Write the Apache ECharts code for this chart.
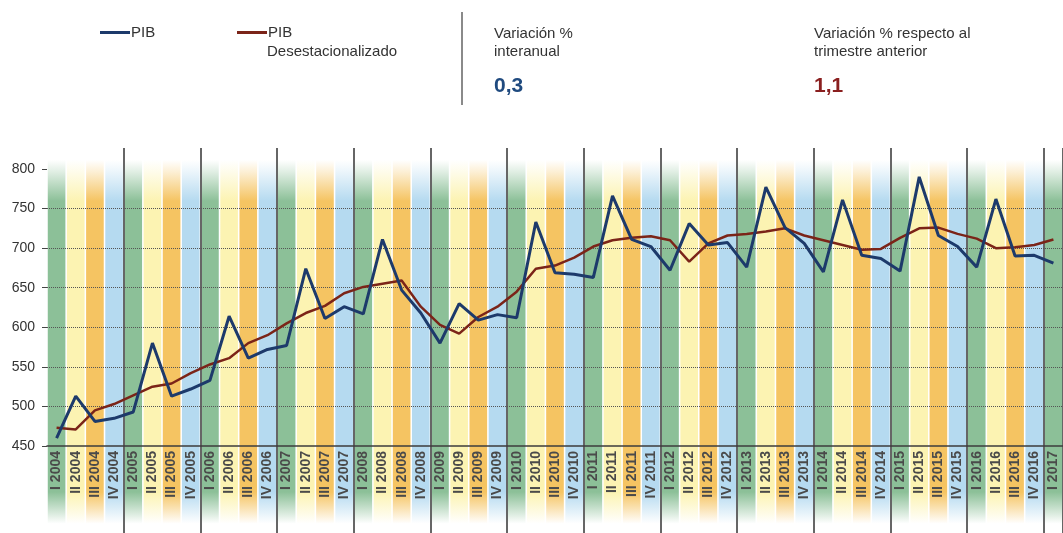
<!DOCTYPE html>
<html>
<head>
<meta charset="utf-8">
<script src="https://cdn.jsdelivr.net/npm/echarts@6/dist/echarts.min.js"></script>
<style>
  html, body { margin: 0; padding: 0; background: #fff; }
  #chart { width: 1063px; height: 533px; }
</style>
</head>
<body>
<div id="chart"></div>
<script>
// trimestres I 2004 .. I 2017
const years = [2004, 2005, 2006, 2007, 2008, 2009, 2010, 2011, 2012, 2013, 2014, 2015, 2016, 2017]
const quarterNames = ['I', 'II', 'III', 'IV']
const categories = []
years.forEach(y => {
  quarterNames.forEach(q => {
    if (y === 2017 && q !== 'I') return
    categories.push(q + ' ' + y)
  })
})

// PIB (serie original)
const pib = [
  460, 513, 481, 485,
  493, 580, 513, 522,
  533, 614, 561, 572,
  577, 674, 611, 626,
  617, 711, 647, 618,
  580, 630, 609, 616,
  612, 733, 669, 667,
  663, 766, 711, 702,
  672, 731, 704, 707,
  676, 777, 726, 706,
  670, 761, 691, 687,
  671, 790, 716, 702,
  676, 762, 690, 691,
  681
]

// PIB desestacionalizado
const pibDes = [
  473, 471, 495, 503,
  514, 525, 529, 542,
  553, 561, 580, 590,
  605, 618, 627, 643,
  651, 655, 659, 626,
  603, 592, 613, 626,
  645, 674, 678, 688,
  702, 710, 713, 715,
  710, 683, 706, 716,
  718, 721, 725, 716,
  710, 704, 698, 699,
  713, 725, 726, 718,
  712, 700, 701, 704,
  711
]

const yTicks = { min: 450, max: 800, step: 50 }
const headline = { interanual: '0,3', trimestral: '1,1' }

// colores de fondo por trimestre (I verde, II amarillo, III naranja, IV azul)
const bandRgb = ['140,192,152', '252,243,178', '245,196,98', '181,218,240']

const chart = echarts.init(document.getElementById('chart'))
const font = 'Liberation Sans, Arial, sans-serif'

function bandColor(rgb) {
  return new echarts.graphic.LinearGradient(0, 0, 0, 1, [
    { offset: 0, color: 'rgba(' + rgb + ',0)' },
    { offset: 0.03, color: 'rgba(' + rgb + ',0.25)' },
    { offset: 0.11, color: 'rgba(' + rgb + ',1)' },
    { offset: 0.89, color: 'rgba(' + rgb + ',1)' },
    { offset: 0.975, color: 'rgba(' + rgb + ',0)' },
    { offset: 1, color: 'rgba(' + rgb + ',0)' }
  ])
}

const bandData = categories.map((c, i) => ({
  value: 1,
  itemStyle: { color: bandColor(bandRgb[i % 4]) }
}))

const headStyle = { fontSize: 15, fontWeight: 'normal', color: '#333', lineHeight: 18, fontFamily: font }

const option = {
  backgroundColor: '#fff',
  animation: false,
  textStyle: { fontFamily: font },
  title: [
    { text: 'Variación %\ninteranual', left: 494, top: 25, padding: 0, textStyle: headStyle },
    { text: headline.interanual, left: 494, top: 76, padding: 0,
      textStyle: { fontSize: 21, fontWeight: 'bold', color: '#1f4a7f', fontFamily: font } },
    { text: 'Variación % respecto al\ntrimestre anterior', left: 814, top: 25, padding: 0, textStyle: headStyle },
    { text: headline.trimestral, left: 814, top: 76, padding: 0,
      textStyle: { fontSize: 21, fontWeight: 'bold', color: '#8a1f1f', fontFamily: font } },
    { text: 'Desestacionalizado', left: 267, top: 43, padding: 0, textStyle: headStyle }
  ],
  legend: [
    { data: ['PIB'], left: 100, top: 25, padding: 0, icon: 'rect', itemWidth: 30, itemHeight: 3, itemGap: 2,
      textStyle: { fontSize: 15, color: '#333', padding: [0, 0, 0, -4] } },
    { data: ['PIB Desestacionalizado'], left: 237, top: 25, padding: 0, icon: 'rect', itemWidth: 30, itemHeight: 3,
      formatter: () => 'PIB',
      textStyle: { fontSize: 15, color: '#333', padding: [0, 0, 0, -4] } }
  ],
  graphic: [
    { type: 'line', shape: { x1: 462, y1: 12, x2: 462, y2: 105 },
      style: { stroke: '#8a8a8a', lineWidth: 2 } }
  ],
  grid: [
    { left: 47, right: -7, top: 169, bottom: 87 },
    { left: 47, right: -7, top: 148, bottom: 0 }
  ],
  xAxis: [
    {
      type: 'category', gridIndex: 0, data: categories, boundaryGap: true, z: 2,
      axisLine: { lineStyle: { color: '#3d3d3d', width: 1.5 } },
      axisTick: { show: false },
      axisLabel: { interval: 0, rotate: 90, margin: 5, fontSize: 14, fontWeight: 'bold',
        color: '#4a4a4a', fontFamily: font },
      splitLine: { show: false }
    },
    {
      type: 'category', gridIndex: 1, data: categories, boundaryGap: true, z: 1,
      axisLine: { show: false }, axisTick: { show: false }, axisLabel: { show: false },
      splitLine: {
        show: true,
        interval: (i) => i > 0 && i % 4 === 0,
        lineStyle: { color: '#666', width: 2 }
      }
    }
  ],
  yAxis: [
    {
      type: 'value', gridIndex: 0, min: yTicks.min, max: yTicks.max, interval: yTicks.step, z: 2,
      axisLine: { show: false },
      axisTick: { show: true, length: 5, lineStyle: { color: '#444' } },
      axisLabel: { fontSize: 14, color: '#333', margin: 12, fontFamily: font },
      splitLine: { show: true, showMinLine: false, showMaxLine: false,
        lineStyle: { type: 'dotted', color: '#555', width: 1 } }
    },
    {
      type: 'value', gridIndex: 1, min: 0, max: 1.032, show: false,
      splitLine: { show: false }
    }
  ],
  series: [
    {
      name: 'bandas', type: 'bar', xAxisIndex: 1, yAxisIndex: 1, z: 0,
      barWidth: '92%', data: bandData, silent: true
    },
    {
      name: 'PIB Desestacionalizado', type: 'line', xAxisIndex: 0, yAxisIndex: 0, z: 3,
      data: pibDes, showSymbol: false, color: '#7b2418',
      lineStyle: { width: 2.5, color: '#7b2418' }
    },
    {
      name: 'PIB', type: 'line', xAxisIndex: 0, yAxisIndex: 0, z: 4,
      data: pib, showSymbol: false, color: '#1d3a6b',
      lineStyle: { width: 3, color: '#1d3a6b' }
    }
  ]
}

chart.setOption(option)
</script>
</body>
</html>
